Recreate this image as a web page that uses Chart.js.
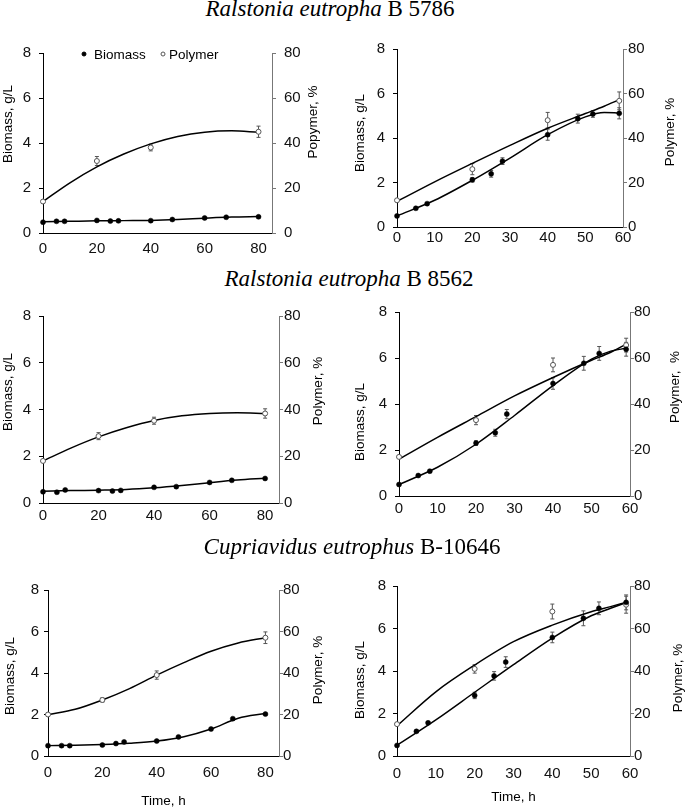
<!DOCTYPE html>
<html>
<head>
<meta charset="utf-8">
<script src="https://cdn.jsdelivr.net/npm/chart.js@4.4.0/dist/chart.umd.min.js"></script>
<style>
  body { margin: 0; background: #fff; }
  #wrap { position: relative; width: 685px; height: 809px; overflow: hidden; }
  canvas { position: absolute; }
  .title { position: absolute; width: 500px; text-align: center; white-space: nowrap;
           font-family: "Liberation Serif", "Times New Roman", serif; font-size: 23px; line-height: 26px; color: #000; z-index: 2; }
</style>
</head>
<body>
<div id="wrap">
  <canvas id="c1"></canvas>
  <canvas id="c2"></canvas>
  <canvas id="c3"></canvas>
  <canvas id="c4"></canvas>
  <canvas id="c5"></canvas>
  <canvas id="c6"></canvas>
  <div class="title" style="left:80px;top:-4px"><i>Ralstonia eutropha</i> B 5786</div>
  <div class="title" style="left:99px;top:266px"><i>Ralstonia eutropha</i> B 8562</div>
  <div class="title" style="left:102px;top:534px"><i>Cupriavidus eutrophus</i> B-10646</div>
</div>
<script>
// sampling times, h
const longTime = [0, 5, 8, 20, 25, 28, 40, 48, 60, 68, 80];
const shortTime = [0, 5, 8, 20, 25, 28, 40, 48, 52, 59];
const longPolyTime = [0, 20, 40, 80];
const shortPolyTime = [0, 20, 40, 59];
const longFitTime = [0, 10, 20, 30, 40, 50, 60, 70, 80];
const shortFitTime = [0, 10, 20, 30, 40, 50, 55, 59];

// axis tick labels
const longTicks = [0, 20, 40, 60, 80];
const shortTicks = [0, 10, 20, 30, 40, 50, 60];
const biomassTicks = [0, 2, 4, 6, 8];
const polymerTicks = [0, 20, 40, 60, 80];

// Ralstonia eutropha B 5786
const biomass1 = [0.48, 0.52, 0.52, 0.56, 0.53, 0.54, 0.55, 0.6, 0.67, 0.7, 0.72];
const polymer1 = [14, 32, 38, 45];
const polymerErr1 = [0.5, 2, 1.5, 2.5];
const biomassFit1 = [0.5, 0.52, 0.54, 0.55, 0.56, 0.6, 0.66, 0.71, 0.73];
const polymerFit1 = [14, 22.3, 29.4, 35.1, 39.6, 42.9, 44.8, 45.4, 44.8];

const biomass2 = [0.5, 0.84, 1.05, 2.12, 2.39, 2.96, 4.15, 4.87, 5.08, 5.11];
const biomassErr2 = [0.03, 0.05, 0.05, 0.1, 0.15, 0.15, 0.25, 0.2, 0.15, 0.25];
const polymer2 = [12, 26, 48, 56.7];
const polymerErr2 = [0.5, 2.5, 3.5, 4];
const biomassFit2 = [0.5, 1.2, 2.1, 3.1, 4.15, 4.95, 5.15, 5.12];
const polymerFit2 = [11.5, 20.3, 28.6, 36.7, 44.4, 51, 54.3, 57.2];

// Ralstonia eutropha B 8562
const biomass3 = [0.48, 0.46, 0.56, 0.53, 0.51, 0.54, 0.67, 0.7, 0.88, 0.97, 1.05];
const polymer3 = [18, 28.6, 35.2, 38.3];
const polymerErr3 = [0.5, 1.5, 1.5, 2];
const biomassFit3 = [0.5, 0.53, 0.55, 0.58, 0.65, 0.75, 0.87, 0.98, 1.06];
const polymerFit3 = [18, 23.5, 28.3, 32.2, 35.3, 37.3, 38.3, 38.6, 38.3];

const biomass4 = [0.5, 0.89, 1.08, 2.3, 2.75, 3.56, 4.89, 5.77, 6.2, 6.38];
const biomassErr4 = [0.03, 0.05, 0.05, 0.1, 0.15, 0.2, 0.25, 0.3, 0.3, 0.3];
const polymer4 = [17, 33, 57, 65.6];
const polymerErr4 = [0.5, 2, 3, 3];
const biomassFit4 = [0.5, 1.25, 2.25, 3.5, 4.8, 5.95, 6.3, 6.42];
const polymerFit4 = [16, 25.5, 34.5, 43.5, 51.5, 59, 62.5, 66];

// Cupriavidus eutrophus B-10646
const biomass5 = [0.5, 0.5, 0.5, 0.53, 0.6, 0.68, 0.72, 0.92, 1.3, 1.8, 2.02];
const polymer5 = [20, 27, 39, 57];
const polymerErr5 = [0.5, 1, 2, 2.8];
const biomassFit5 = [0.5, 0.52, 0.56, 0.62, 0.72, 0.93, 1.3, 1.82, 2.05];
const polymerFit5 = [20, 22.5, 27, 32.5, 39, 45, 50.5, 54.5, 57];

const biomass6 = [0.5, 1.16, 1.56, 2.85, 3.77, 4.42, 5.58, 6.48, 6.95, 7.23];
const biomassErr6 = [0.03, 0.05, 0.05, 0.15, 0.2, 0.25, 0.25, 0.35, 0.3, 0.35];
const polymer6 = [15, 41, 68, 71.2];
const polymerErr6 = [0.5, 2, 3.5, 4];
const biomassFit6 = [0.5, 1.7, 3.0, 4.3, 5.55, 6.6, 6.95, 7.22];
const polymerFit6 = [14.2, 30.2, 42.8, 53.8, 61.6, 67.9, 70.3, 72.3];

const sans = '"Liberation Sans", Arial, sans-serif';
const pts = (xs, ys) => xs.map((x, i) => ({ x: x, y: ys[i] }));
const setTicks = list => s => { s.ticks = list.map(v => ({ value: v })); };

// error bars drawn from each dataset's "errors" list through its own y scale
const errorBars = {
    id: 'errorBars',
    beforeDatasetsDraw(chart) {
        const ctx = chart.ctx;
        ctx.save();
        ctx.strokeStyle = '#555';
        ctx.lineWidth = 1;
        chart.data.datasets.forEach((ds, i) => {
            if (!ds.errors) return;
            const meta = chart.getDatasetMeta(i);
            const scale = chart.scales[meta.yAxisID];
            meta.data.forEach((el, j) => {
                const e = ds.errors[j];
                if (!e) return;
                const v = ds.data[j].y;
                const ya = scale.getPixelForValue(v - e);
                const yb = scale.getPixelForValue(v + e);
                ctx.beginPath();
                ctx.moveTo(el.x, ya); ctx.lineTo(el.x, yb);
                ctx.moveTo(el.x - 2, ya); ctx.lineTo(el.x + 2, ya);
                ctx.moveTo(el.x - 2, yb); ctx.lineTo(el.x + 2, yb);
                ctx.stroke();
            });
        });
        ctx.restore();
    }
};

// vertical axis titles, both read bottom-to-top like the source figure
const yTitles = {
    id: 'yTitles',
    afterDraw(chart, args, opts) {
        const ctx = chart.ctx;
        ctx.save();
        ctx.fillStyle = '#000';
        ctx.font = '13.5px ' + sans;
        ctx.textAlign = 'center';
        ctx.textBaseline = 'middle';
        (opts.items || []).forEach(t => {
            ctx.save();
            ctx.translate(t.x, t.y);
            ctx.rotate(-Math.PI / 2);
            ctx.fillText(t.text, 0, 0);
            ctx.restore();
        });
        ctx.restore();
    }
};

// small legend inside the first panel
const inlineLegend = {
    id: 'inlineLegend',
    afterDraw(chart, args, opts) {
        if (!opts.items) return;
        const ctx = chart.ctx;
        ctx.save();
        ctx.font = '13.5px ' + sans;
        ctx.textBaseline = 'middle';
        ctx.textAlign = 'left';
        opts.items.forEach(it => {
            const ds = chart.data.datasets[it.dataset];
            ctx.beginPath();
            ctx.arc(it.mx, opts.y, 2, 0, Math.PI * 2);
            ctx.fillStyle = ds.pointBackgroundColor;
            ctx.fill();
            ctx.strokeStyle = ds.pointBorderColor;
            ctx.lineWidth = 1;
            ctx.stroke();
            ctx.fillStyle = '#000';
            ctx.fillText(ds.label, it.tx, opts.y + 1);
        });
        ctx.restore();
    }
};

const panels = [
    { id: 'c1', box: { x: 0, y: 30, w: 335, h: 235 }, area: { l: 43, t: 53, r: 272, b: 233 },
      time: longTime, polyTime: longPolyTime, fitTime: longFitTime, xMax: 85, xTicks: longTicks,
      biomass: biomass1, biomassErr: null, polymer: polymer1, polymerErr: polymerErr1,
      biomassFit: biomassFit1, polymerFit: polymerFit1,
      yPad: 8, y1Pad: 8, xPad: -1, xTitle: false,
      titles: [{ x: 8, y: 94, text: 'Biomass, g/L' }, { x: 313, y: 92, text: 'Popymer, %' }],
      legend: { y: 24, items: [{ dataset: 0, mx: 84, tx: 94 }, { dataset: 1, mx: 163, tx: 169 }] } },
    { id: 'c2', box: { x: 340, y: 30, w: 345, h: 235 }, area: { l: 397, t: 49, r: 623, b: 227 },
      time: shortTime, polyTime: shortPolyTime, fitTime: shortFitTime, xMax: 60, xTicks: shortTicks,
      biomass: biomass2, biomassErr: biomassErr2, polymer: polymer2, polymerErr: polymerErr2,
      biomassFit: biomassFit2, polymerFit: polymerFit2,
      yPad: 8, y1Pad: 1, xPad: -6, xTitle: false,
      titles: [{ x: 20, y: 103, text: 'Biomass, g/L' }, { x: 330, y: 102, text: 'Polymer, %' }] },
    { id: 'c3', box: { x: 0, y: 295, w: 335, h: 240 }, area: { l: 43, t: 316, r: 279, b: 503 },
      time: longTime, polyTime: longPolyTime, fitTime: longFitTime, xMax: 85, xTicks: longTicks,
      biomass: biomass3, biomassErr: null, polymer: polymer3, polymerErr: polymerErr3,
      biomassFit: biomassFit3, polymerFit: polymerFit3,
      yPad: 8, y1Pad: 1, xPad: -4, xTitle: false,
      titles: [{ x: 8, y: 97, text: 'Biomass, g/L' }, { x: 318, y: 96, text: 'Polymer, %' }] },
    { id: 'c4', box: { x: 340, y: 295, w: 345, h: 240 }, area: { l: 399, t: 305, r: 630, b: 496 },
      time: shortTime, polyTime: shortPolyTime, fitTime: shortFitTime, xMax: 60, xTicks: shortTicks,
      biomass: biomass4, biomassErr: biomassErr4, polymer: polymer4, polymerErr: polymerErr4,
      biomassFit: biomassFit4, polymerFit: polymerFit4,
      yPad: 8, y1Pad: 0, xPad: -4, xTitle: false,
      titles: [{ x: 20, y: 127, text: 'Biomass, g/L' }, { x: 335, y: 92, text: 'Polymer,  %' }] },
    { id: 'c5', box: { x: 0, y: 570, w: 335, h: 239 }, area: { l: 48, t: 590, r: 279, b: 756 },
      time: longTime, polyTime: longPolyTime, fitTime: longFitTime, xMax: 85, xTicks: longTicks,
      biomass: biomass5, biomassErr: null, polymer: polymer5, polymerErr: polymerErr5,
      biomassFit: biomassFit5, polymerFit: polymerFit5,
      yPad: 5, y1Pad: 0, xPad: 0, xTitle: true, xTitlePad: 0,
      titles: [{ x: 10, y: 106, text: 'Biomass, g/L' }, { x: 318, y: 100, text: 'Polymer, %' }] },
    { id: 'c6', box: { x: 340, y: 570, w: 345, h: 239 }, area: { l: 397, t: 586, r: 630, b: 756 },
      time: shortTime, polyTime: shortPolyTime, fitTime: shortFitTime, xMax: 60, xTicks: shortTicks,
      biomass: biomass6, biomassErr: biomassErr6, polymer: polymer6, polymerErr: polymerErr6,
      biomassFit: biomassFit6, polymerFit: polymerFit6,
      yPad: 7, y1Pad: 0, xPad: 1, xTitle: true, xTitlePad: 4,
      titles: [{ x: 20, y: 110, text: 'Biomass, g/L' }, { x: 338, y: 108, text: 'Polymer, %' }] }
];

panels.forEach(p => {
    const cv = document.getElementById(p.id);
    cv.width = p.box.w;
    cv.height = p.box.h;
    cv.style.left = p.box.x + 'px';
    cv.style.top = p.box.y + 'px';
    cv.style.width = p.box.w + 'px';
    cv.style.height = p.box.h + 'px';

    const tickFont = { family: sans, size: 15 };

    new Chart(cv, {
        type: 'scatter',
        data: {
            datasets: [{
                label: 'Biomass',
                data: pts(p.time, p.biomass),
                errors: p.biomassErr,
                yAxisID: 'y',
                pointRadius: 2.5,
                pointBackgroundColor: '#000',
                pointBorderColor: '#000',
                pointBorderWidth: 0.5,
                clip: false
            }, {
                label: 'Polymer',
                data: pts(p.polyTime, p.polymer),
                errors: p.polymerErr,
                yAxisID: 'y1',
                pointRadius: 2.5,
                pointBackgroundColor: '#fff',
                pointBorderColor: '#555',
                pointBorderWidth: 1,
                clip: false
            }, {
                data: pts(p.fitTime, p.biomassFit),
                yAxisID: 'y',
                showLine: true,
                pointRadius: 0,
                borderColor: '#000',
                borderWidth: 1.5,
                cubicInterpolationMode: 'monotone',
                clip: false
            }, {
                data: pts(p.fitTime, p.polymerFit),
                yAxisID: 'y1',
                showLine: true,
                pointRadius: 0,
                borderColor: '#000',
                borderWidth: 1.5,
                cubicInterpolationMode: 'monotone',
                clip: false
            }]
        },
        options: {
            responsive: false,
            animation: false,
            events: [],
            layout: { padding: { top: p.area.t - p.box.y, left: 0, right: 0, bottom: 0 } },
            scales: {
                x: {
                    type: 'linear',
                    min: 0,
                    max: p.xMax,
                    ticks: { font: tickFont, color: '#111', padding: p.xPad, maxRotation: 0 },
                    grid: { display: false },
                    border: { color: '#000', width: 1 },
                    title: { display: p.xTitle, text: 'Time, h', color: '#000',
                             font: { family: sans, size: 13.5 }, padding: { top: 0, bottom: p.xTitlePad || 0 } },
                    afterBuildTicks: setTicks(p.xTicks),
                    afterFit: s => { s.height = p.box.y + p.box.h - p.area.b; }
                },
                y: {
                    position: 'left',
                    min: 0,
                    max: 8,
                    ticks: { font: tickFont, color: '#111', padding: p.yPad },
                    grid: { drawOnChartArea: false, color: '#000', tickLength: 4 },
                    border: { color: '#000', width: 1 },
                    afterBuildTicks: setTicks(biomassTicks),
                    afterFit: s => { s.width = p.area.l - p.box.x; }
                },
                y1: {
                    position: 'right',
                    min: 0,
                    max: 80,
                    ticks: { font: tickFont, color: '#111', padding: p.y1Pad },
                    grid: { drawOnChartArea: false, color: '#777', tickLength: 4 },
                    border: { color: '#777', width: 1 },
                    afterBuildTicks: setTicks(polymerTicks),
                    afterFit: s => { s.width = p.box.x + p.box.w - p.area.r; }
                }
            },
            plugins: {
                legend: { display: false },
                tooltip: { enabled: false },
                yTitles: { items: p.titles },
                inlineLegend: p.legend || {}
            }
        },
        plugins: [errorBars, yTitles, inlineLegend]
    });
});
</script>
</body>
</html>
